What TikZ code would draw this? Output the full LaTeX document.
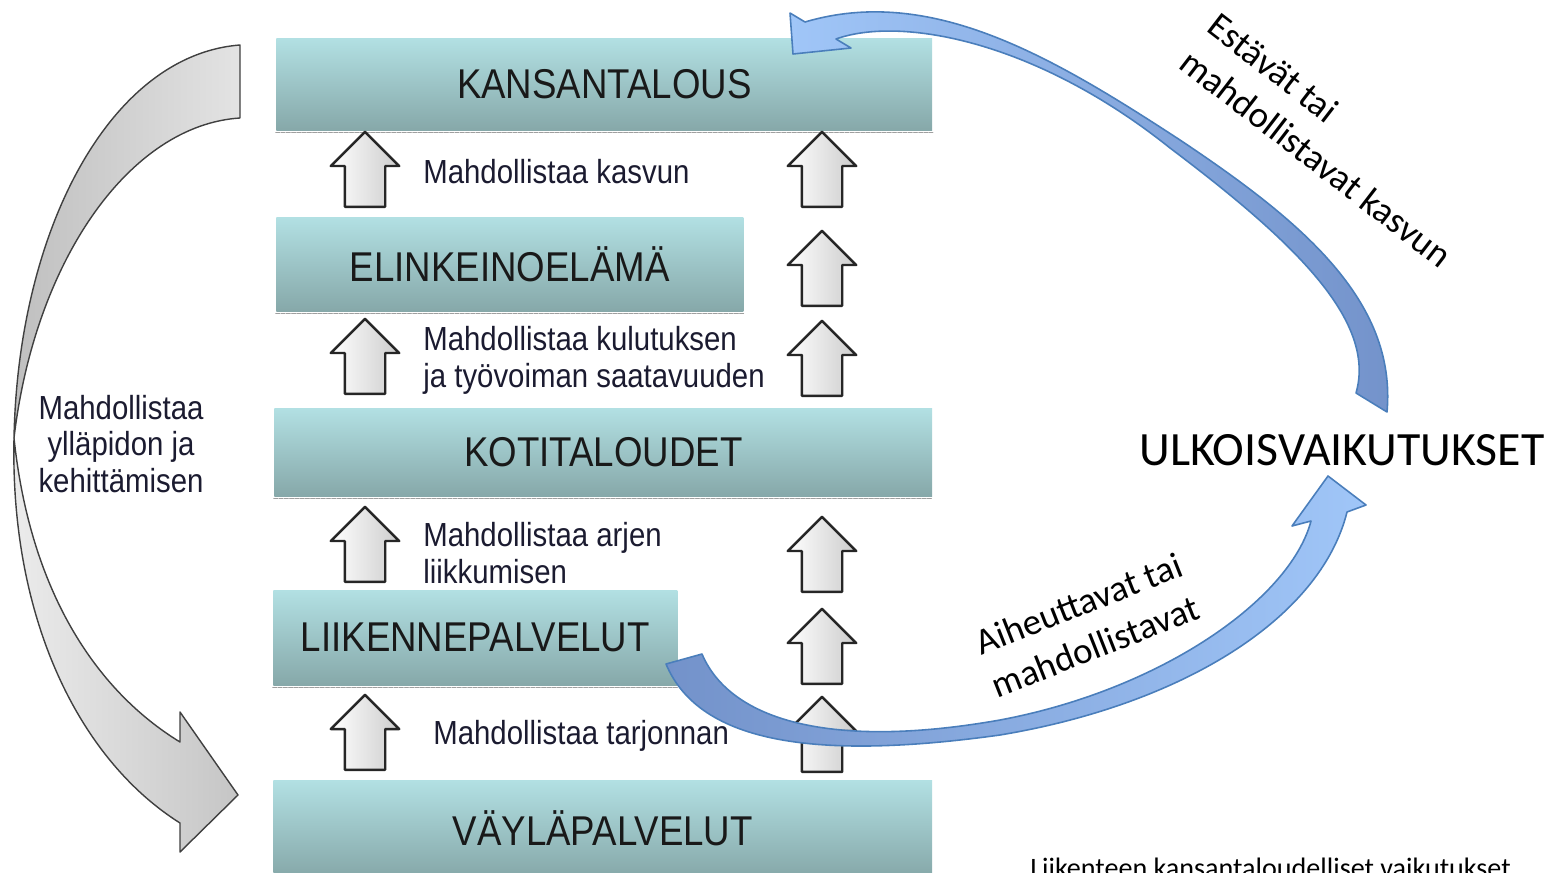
\documentclass[tikz,border=0pt]{standalone}
\usepackage{fontspec}
\setmainfont{Liberation Sans}
\newfontfamily\narrowfont[FakeStretch=0.88]{Liberation Sans}
\newfontfamily\calfont{Carlito}
\usetikzlibrary{arrows.meta,shapes.arrows,positioning}
\definecolor{boxtop}{HTML}{B2E0E3}
\definecolor{boxbot}{HTML}{86A8A9}
\definecolor{txtdark}{HTML}{1B1B30}
\definecolor{blueedge}{HTML}{4A7EBB}
\definecolor{bluelight}{HTML}{A0C6F8}
\definecolor{bluedark}{HTML}{3F70B8}
\definecolor{bluemid}{HTML}{7392CA}
\tikzset{
  every picture/.style={line join=round, line cap=round, >=Stealth},
  tier/.style={rectangle, inner sep=0pt, anchor=north west, top color=boxtop, bottom color=boxbot,
    font=\narrowfont\fontsize{23.7}{26}\selectfont, text=black!90},
  tierline/.style={draw=gray!75, dash pattern=on 2pt off 1pt, line width=1pt},
  uparr/.style={single arrow, draw=black!85, line width=1.4pt, rotate=90, anchor=tail,
    minimum height=1.5cm, minimum width=1.32cm, single arrow head extend=0.28cm,
    inner xsep=0pt, inner ysep=0.38cm, left color=white, right color=gray!40},
  lbl/.style={font=\narrowfont\fontsize{19}{21}\selectfont, text=txtdark, inner sep=0pt, align=left, anchor=west},
  sidelbl/.style={font=\calfont\fontsize{21}{26}\selectfont, inner sep=0pt},
  grayarrow/.style={draw=black!75, line width=0.8pt},
  bluearrow/.style={draw=blueedge, line width=0.9pt},
}
\begin{document}
\begin{tikzpicture}[x=0.02cm,y=-0.02cm]
\useasboundingbox (0,0) rectangle (1551,872);
% tasot
\node[tier, minimum width=13.12cm, minimum height=1.84cm] (kansa) at (276,38) {KANSANTALOUS};
\node[tier, minimum width=9.34cm, minimum height=1.88cm] (elinkeino) at (276,217) {ELINKEINOELÄMÄ};
\node[tier, minimum width=13.16cm, minimum height=1.76cm] (koti) at (274,408) {KOTITALOUDET};
\node[tier, minimum width=8.08cm, minimum height=1.9cm] (liikenne) at (273,590) {LIIKENNEPALVELUT};
\node[tier, minimum width=13.18cm, minimum height=1.92cm] (vayla) at (273,780) {VÄYLÄPALVELUT};
\foreach \n in {kansa,elinkeino,koti,liikenne,vayla}
  \draw[tierline] ([yshift=-1pt]\n.south west) -- ([yshift=-1pt]\n.south east);
% nuolet ylos
\foreach \x/\y [count=\i] in {365/208,365/395,365/583,365/771,822/208,822/307,822/397,822/593,822/685,822/773}
  \node[uparr] (ylos\i) at (\x,\y) {};
\node[lbl] (kasvu) at (423,172) {Mahdollistaa kasvun};
\node[lbl] (kulutus) at (423,360) {Mahdollistaa kulutuksen\\ja työvoiman saatavuuden};
\node[lbl] (arki) at (423,553) {Mahdollistaa arjen\\liikkumisen};
\node[lbl] (tarjonta) at (433,736) {Mahdollistaa tarjonnan};
% harmaa kaari
\draw[grayarrow, left color=gray!50, right color=gray!22]
 (240,45) -- (240,118) .. controls (130,125) and (35,260) .. (14,438)
 .. controls (18,230) and (110,55) .. (240,45) -- cycle;
\draw[grayarrow, left color=gray!15, right color=gray!45]
 (14,438) .. controls (10,620) and (80,760) .. (180,823) -- (180,852) -- (238,795)
 -- (180,712) -- (180,742) .. controls (95,690) and (30,590) .. (14,438) -- cycle;
\node[lbl, align=center, anchor=center] (yllapito) at (121,444) {Mahdollistaa\\ylläpidon ja\\kehittämisen};
% ulkoisvaikutukset
\node[font=\calfont\fontsize{27.2}{30}\selectfont, inner sep=0pt] (ulko) at (1342,450) {ULKOISVAIKUTUKSET};
\draw[bluearrow, left color=bluelight, middle color=bluedark, right color=bluemid]
 (1387,412) .. controls (1397,300) and (1300,220) .. (1180,140)
 .. controls (1050,55) and (930,-15) .. (805,22)
 -- (790,13) -- (793,54) -- (851,48) -- (836,39)
 .. controls (900,16) and (1035,40) .. (1170,148)
 .. controls (1292,240) and (1377,320) .. (1356,393) -- cycle;
\draw[bluearrow, left color=bluemid, middle color=bluedark, right color=bluelight]
 (666,664) .. controls (700,745) and (820,760) .. (1000,735)
 .. controls (1180,705) and (1320,620) .. (1347,512)
 -- (1366,505) -- (1328,476) -- (1292,526) -- (1311,521)
 .. controls (1290,600) and (1160,690) .. (1000,720)
 .. controls (830,750) and (730,720) .. (702,654) -- cycle;
\node[sidelbl, align=left, rotate=-37.6] (esto) at (1330,140) {Estävät tai\\mahdollistavat kasvun};
\node[sidelbl, align=center, rotate=21.5] (aiheutus) at (1087,625) {Aiheuttavat tai\\mahdollistavat};
\node[font=\calfont\fontsize{16}{18}\selectfont, anchor=base west, inner sep=0pt] (lahde) at (1030,877) {Liikenteen kansantaloudelliset vaikutukset};
\end{tikzpicture}
\end{document}
